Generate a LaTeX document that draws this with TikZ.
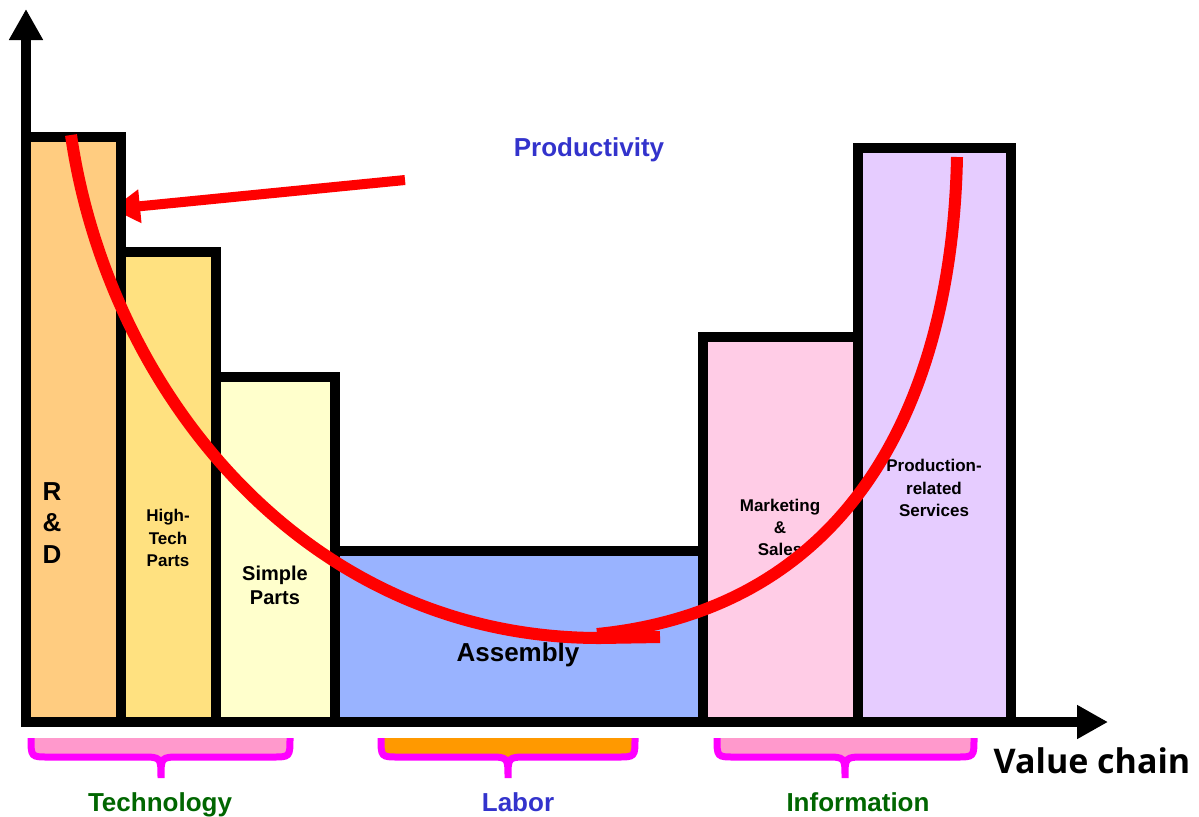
\documentclass[tikz,border=0pt]{standalone}
\usepackage{fontspec}
\setmainfont{Liberation Sans}
\newfontfamily\chainfont{Open Sans}
\usetikzlibrary{arrows.meta}

\definecolor{rdfill}{HTML}{FFCC80}
\definecolor{htfill}{HTML}{FFE180}
\definecolor{spfill}{HTML}{FFFFCC}
\definecolor{asfill}{HTML}{99B3FF}
\definecolor{mkfill}{HTML}{FFCCE6}
\definecolor{psfill}{HTML}{E6CCFF}
\definecolor{bracepink}{HTML}{FF99CC}
\definecolor{laborfill}{HTML}{FF9900}
\definecolor{bracemag}{HTML}{FF00FF}
\definecolor{groupgreen}{HTML}{006600}
\definecolor{groupblue}{HTML}{3333CC}

\begin{document}
\begin{tikzpicture}[x=0.5pt,y=-0.5pt,
  bar/.style={draw=black,line width=5pt},
  axis/.style={draw=black,line width=5pt,-{Triangle[length=15.5pt,width=16pt]}},
  trend/.style={draw=red,line width=6pt},
  lbl/.style={inner sep=0pt,align=center},
  group/.style={inner sep=0pt,anchor=base,font=\fontsize{13}{15}\selectfont\bfseries},
  brace/.style={draw=bracemag,line width=3.5pt},
]
\useasboundingbox (0,0) rectangle (1199,816);

% axes
\coordinate (origin) at (26,727);
\coordinate (ytop) at (26,9);
\coordinate (xleft) at (21,722);
\coordinate (xright) at (1108,722);
\draw[axis] (origin) -- (ytop);
\draw[axis] (xleft) -- (xright);

% productivity arrow (runs under the R&D bar)
\coordinate (arrowstart) at (405,180);
\coordinate (arrowtip) at (112,209);
\draw[red,line width=5pt,-{Triangle[length=14pt,width=16pt]}] (arrowstart) -- (arrowtip);

% bars of the value chain
\draw[bar,fill=rdfill] (26,722) rectangle (121,137);
\draw[bar,fill=htfill] (121,722) rectangle (216,252);
\draw[bar,fill=spfill] (216,722) rectangle (335,377);
\draw[bar,fill=asfill] (335,722) rectangle (703,551);
\draw[bar,fill=mkfill] (703,722) rectangle (858,337);
\draw[bar,fill=psfill] (858,722) rectangle (1011,148);

% bar labels
\node[lbl,font=\fontsize{13}{15.75}\selectfont\bfseries] (rd) at (52,523) {R\\\&\\D};
\node[lbl,font=\fontsize{8.5}{11.25}\selectfont\bfseries] (hightech) at (168,538) {High-\\Tech\\Parts};
\node[lbl,font=\fontsize{10}{12}\selectfont\bfseries] (simple) at (275,585) {Simple\\Parts};
\node[lbl,anchor=base,font=\fontsize{13}{15}\selectfont\bfseries] (assembly) at (518,661) {Assembly};
\node[lbl,font=\fontsize{8.5}{11}\selectfont\bfseries] (marketing) at (780,527) {Marketing\\\&\\Sales};
\node[lbl,font=\fontsize{8.5}{11.25}\selectfont\bfseries] (services) at (934,488) {Production-\\related\\Services};

% smile curve, drawn in two overlapping strokes
\draw[trend] (71,135) .. controls (107,385) and (300,638) .. (600,638) -- (660,637);
\draw[trend] (597,634) .. controls (847,609) and (952,407) .. (957,157);

% titles
\node[group,text=groupblue] (productivity) at (589,156) {Productivity};
\node[inner sep=0pt,anchor=base,font=\fontsize{17}{20}\selectfont\chainfont\bfseries] (valuechain) at (1092,773) {Value chain};

% braces under the bars
\foreach \l/\m/\r/\c in {31/161/290/bracepink,381/508/635/laborfill,717/845/974/bracepink}{
  \fill[\c] (\l,738) .. controls (\l,757) .. (\l+18,757) -- (\m-20,757)
    .. controls (\m,757) .. (\m,778) .. controls (\m,757) .. (\m+20,757)
    -- (\r-18,757) .. controls (\r,757) .. (\r,738) -- cycle;
  \draw[brace] (\l,738) .. controls (\l,757) .. (\l+18,757) -- (\m-20,757)
    .. controls (\m,757) .. (\m,778) .. controls (\m,757) .. (\m+20,757)
    -- (\r-18,757) .. controls (\r,757) .. (\r,738);
}

\node[group,text=groupgreen] (technology) at (160,811) {Technology};
\node[group,text=groupblue] (labor) at (518,811) {Labor};
\node[group,text=groupgreen] (information) at (858,811) {Information};
\end{tikzpicture}
\end{document}
